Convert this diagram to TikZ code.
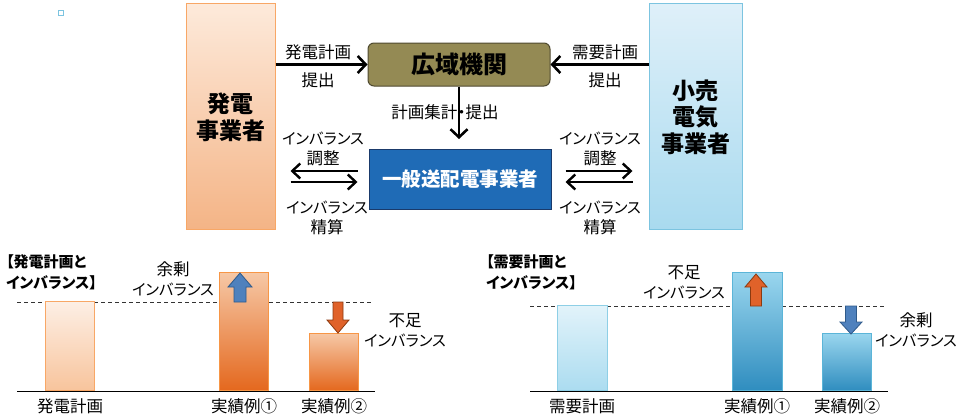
\documentclass[tikz,border=0pt]{standalone}
\usepackage{fontspec}
\setmainfont{Noto Sans CJK JP}[RawFeature=+palt]
\usetikzlibrary{arrows.meta,calc}
\newcommand\myibr{{\fontsize{15.3}{20}\selectfont インバランス}}
\definecolor{genTop}{HTML}{FDEADB}
\definecolor{genBot}{HTML}{F4B486}
\definecolor{genBrd}{HTML}{F8A766}
\definecolor{retTop}{HTML}{DFF0F9}
\definecolor{retBot}{HTML}{A9DAEF}
\definecolor{retBrd}{HTML}{7CC4E0}
\definecolor{olive}{HTML}{948A54}
\definecolor{oliveBrd}{HTML}{4F4A30}
\definecolor{tsoBlue}{HTML}{1F6BB6}
\definecolor{tsoBrd}{HTML}{1A3A6B}
\definecolor{gpTop}{HTML}{FDEFE5}
\definecolor{gpBot}{HTML}{F8C49C}
\definecolor{gaTop}{HTML}{F6C8A6}
\definecolor{gaBot}{HTML}{E4681E}
\definecolor{gaBrd}{HTML}{F79646}
\definecolor{dpTop}{HTML}{E2F3FA}
\definecolor{dpBot}{HTML}{ABDCF0}
\definecolor{dpBrd}{HTML}{8ECFE6}
\definecolor{daTop}{HTML}{9AD6EE}
\definecolor{daBot}{HTML}{2F8DBF}
\definecolor{daBrd}{HTML}{5BB5D8}
\definecolor{upBlue}{HTML}{4F81BD}
\definecolor{upBlueBrd}{HTML}{2F5A8A}
\definecolor{dnOrange}{HTML}{E0622A}
\definecolor{dnOrangeBrd}{HTML}{8B3A10}
\begin{document}
\begin{tikzpicture}[x=1pt,y=-1pt,
  lbl/.style={inner sep=0pt, align=center, font=\fontsize{16.5}{20}\selectfont},
  headtxt/.style={inner sep=0pt, align=center, font=\fontsize{23}{27}\selectfont\bfseries},
  ttl/.style={inner sep=0pt, align=left, anchor=west, font=\fontsize{15}{21}\selectfont\bfseries},
  arr/.style={line width=2.8pt, -{Straight Barb[length=8pt,width=17pt,line width=2.6pt]}},
  darr/.style={line width=2.6pt, -{Straight Barb[length=8pt,width=15pt,line width=2.4pt]}},
  barbox/.style={draw, line width=1pt, anchor=south, inner sep=0pt},
  baseln/.style={line width=1pt, black},
  dashln/.style={line width=0.9pt, dash pattern=on 4pt off 3pt, black!80}
]
\useasboundingbox (0,0) rectangle (960,418);

% tiny square marker
\node[draw=retBrd, line width=1pt, fill=white, minimum size=5pt, inner sep=0pt] (mark) at (61,13) {};

% main boxes
\node[draw=genBrd, line width=1pt, top color=genTop, bottom color=genBot,
      minimum width=89pt, minimum height=226pt, inner sep=0pt] (gen) at (230.5,116) {};
\node[headtxt] (genT) at (230.5,117) {発電\\事業者};
\node[draw=retBrd, line width=1pt, top color=retTop, bottom color=retBot,
      minimum width=93pt, minimum height=226pt, inner sep=0pt] (ret) at (695.5,116) {};
\node[headtxt, font=\fontsize{23}{26.5}\selectfont\bfseries] (retT) at (695.5,117) {小売\\電気\\事業者};
\node[draw=oliveBrd, line width=1pt, fill=olive, rounded corners=6pt,
      minimum width=182pt, minimum height=43pt, inner sep=0pt,
      font=\fontsize{24}{24}\selectfont\bfseries] (occto) at (459,64.5) {広域機関};
\node[draw=tsoBrd, line width=1pt, fill=tsoBlue, text=white,
      minimum width=182pt, minimum height=60pt, inner sep=0pt,
      font=\fontsize{19.5}{19.5}\selectfont\bfseries] (tso) at (460,179) {一般送配電事業者};

% plan submission arrows
\draw[arr] (gen.east |- occto.west) -- (occto.west);
\node[lbl] (l1a) at (318,52) {発電計画};
\node[lbl] (l1b) at (318,80) {提出};
\draw[arr] (ret.west |- occto.east) -- (occto.east);
\node[lbl] (l2a) at (605,52) {需要計画};
\node[lbl] (l2b) at (605,80) {提出};

% aggregation arrow
\coordinate (aggEnd) at (occto.south |- 0,139);
\draw[arr] (occto.south) -- (aggEnd);
\node[lbl] (l3) at (445,112) {計画集計・提出};

% imbalance arrows left
\coordinate (gL1) at (gen.east |- 0,171);
\coordinate (gL2) at (gen.east |- 0,182);
\draw[darr] ($(tso.west |- gL1)+(-11,0)$) -- ($(gL1)+(15,0)$);
\draw[darr] ($(gL2)+(15,0)$) -- ($(tso.west |- gL2)+(-11,0)$);
\node[lbl] (l4a) at (323,148.5) {\myibr\\調整};
\node[lbl] (l4b) at (327,218) {\myibr\\精算};

% imbalance arrows right
\coordinate (rR1) at (ret.west |- 0,171);
\coordinate (rR2) at (ret.west |- 0,182);
\draw[darr] ($(tso.east |- rR1)+(14,0)$) -- ($(rR1)+(-16,0)$);
\draw[darr] ($(rR2)+(-16,0)$) -- ($(tso.east |- rR2)+(14,0)$);
\node[lbl] (l5a) at (600,148.5) {\myibr\\調整};
\node[lbl] (l5b) at (600,218) {\myibr\\精算};

% ===== left chart =====
\node[ttl] (t1) at (6,272.5) {【発電計画と\\インバランス】};
\coordinate (b1s) at (17,391);
\coordinate (b1e) at (375,391);
\draw[baseln] (b1s) -- (b1e);
\coordinate (d1s) at (17,302);
\coordinate (d1e) at (372,302);
\draw[dashln] (d1s) -- (d1e);
\node[barbox, draw=genBrd, top color=gpTop, bottom color=gpBot, minimum width=49pt, minimum height=89pt] (gp) at (69.5,391) {};
\node[barbox, draw=gaBrd, top color=gaTop, bottom color=gaBot, minimum width=49pt, minimum height=118pt] (ga1) at (243.5,391) {};
\node[barbox, draw=gaBrd, top color=gaTop, bottom color=gaBot, minimum width=49pt, minimum height=57pt] (ga2) at (333.5,391) {};
\draw[fill=upBlue, draw=upBlueBrd, line width=0.8pt]
  (234,302) -- (234,287) -- (228,287) -- (240,273) -- (252,287) -- (246,287) -- (246,302) -- cycle;
\draw[fill=dnOrange, draw=dnOrangeBrd, line width=0.8pt]
  (333,302) -- (333,320) -- (327,320) -- (338,333) -- (349,320) -- (343,320) -- (343,302) -- cycle;
\node[lbl] (s1) at (173,278.5) {余剰\\\myibr};
\node[lbl] (f1) at (405,330) {不足\\\myibr};
\node[lbl] (x1) at (70,406) {発電計画};
\node[lbl] (x2) at (244,406) {実績例①};
\node[lbl] (x3) at (334,406) {実績例②};

% ===== right chart =====
\node[ttl] (t2) at (486,272.5) {【需要計画と\\インバランス】};
\coordinate (b2s) at (530,391);
\coordinate (b2e) at (888,391);
\draw[baseln] (b2s) -- (b2e);
\coordinate (d2s) at (530,306);
\coordinate (d2e) at (884,306);
\draw[dashln] (d2s) -- (d2e);
\node[barbox, draw=dpBrd, top color=dpTop, bottom color=dpBot, minimum width=50pt, minimum height=85pt] (dp) at (582,391) {};
\node[barbox, draw=daBrd, top color=daTop, bottom color=daBot, minimum width=50pt, minimum height=118pt] (da1) at (757,391) {};
\node[barbox, draw=daBrd, top color=daTop, bottom color=daBot, minimum width=49pt, minimum height=57pt] (da2) at (846.5,391) {};
\draw[fill=dnOrange, draw=dnOrangeBrd, line width=0.8pt]
  (750.5,306) -- (750.5,287) -- (745,287) -- (756,274) -- (767,287) -- (761.5,287) -- (761.5,306) -- cycle;
\draw[fill=upBlue, draw=upBlueBrd, line width=0.8pt]
  (845.5,306) -- (845.5,322) -- (840,322) -- (851,334) -- (862,322) -- (856.5,322) -- (856.5,306) -- cycle;
\node[lbl] (f2) at (684,282) {不足\\\myibr};
\node[lbl] (s2) at (916,329.5) {余剰\\\myibr};
\node[lbl] (y1) at (582,406) {需要計画};
\node[lbl] (y2) at (757,406) {実績例①};
\node[lbl] (y3) at (847,406) {実績例②};
\end{tikzpicture}
\end{document}
